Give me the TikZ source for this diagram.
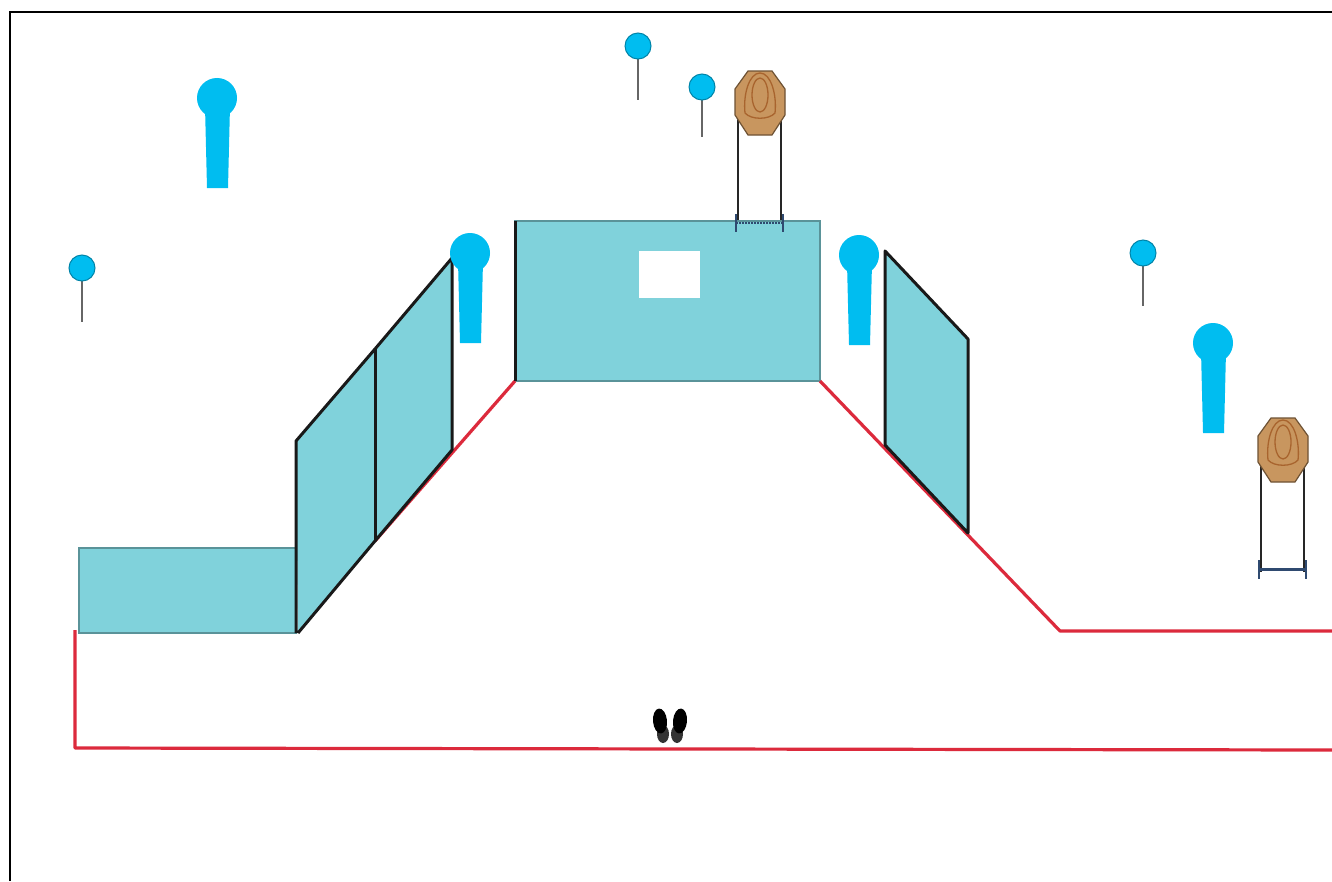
\documentclass[tikz,border=0pt]{standalone}
\usetikzlibrary{shapes.geometric}
\definecolor{wallc}{HTML}{80D2DB}
\definecolor{popc}{HTML}{00BDF0}
\definecolor{steelc}{HTML}{C8965F}
\definecolor{ringc}{HTML}{A8642E}
\definecolor{linec}{HTML}{DC2A3C}
\definecolor{basec}{HTML}{2F4A70}
\tikzset{
  wall/.style   ={fill=wallc,draw=black!30!wallc,line width=1.2pt},
  panel/.style  ={fill=wallc},
  edge/.style   ={draw=black!90,line width=3pt},
  fault/.style  ={draw=linec,line width=3.2pt,line join=round},
  head/.style   ={circle,fill=popc,draw=black!30!popc,line width=1pt,inner sep=0pt},
  stem/.style   ={draw=black!60,line width=2pt},
  leg/.style    ={draw=black!85,line width=1.8pt},
  ring/.style   ={draw=ringc,line width=1.3pt},
  shoe/.style   ={ellipse,fill=black,inner sep=0pt},
}
\begin{document}
\begin{tikzpicture}[x=1pt,y=-1pt]
  \useasboundingbox (0,0) rectangle (1332,881);
  \fill[white] (0,0) rectangle (1332,881);
  % frame
  \draw[line width=2pt] (10,881) -- (10,11.5) -- (1332,11.5);
  % low wall and front wall
  \draw[wall] (79,548) rectangle (296,633);
  \draw[wall] (515,221) rectangle (820,381);
  \fill[white] (639,251) rectangle (700,298);
  % fault lines
  \draw[fault] (75,630) -- (75,748) -- (700,749) -- (1332,750);
  \draw[fault] (375,541) -- (515,381);
  \draw[fault] (820,381) -- (1060,631) -- (1332,631);
  % left panels
  \fill[panel] (296,441) -- (375,349) -- (375,541) -- (298,633) -- cycle;
  \fill[panel] (375,349) -- (452,258) -- (452,450) -- (375,541) -- cycle;
  \draw[edge,line join=round] (296,633) -- (296,441) -- (375,349) -- (452,258) -- (452,450) -- (375,541) -- (298,633);
  \draw[edge] (375,349) -- (375,541);
  \draw[edge] (515,221) -- (515,381);
  % right panel
  \draw[panel,edge,line join=round] (885,251) -- (968,339) -- (968,533) -- (885,445) -- cycle;
  % small poppers
  \foreach \px/\py/\pb/\pn in {82/268/322/sa,638/46/100/sb,702/87/137/sc,1143/253/306/sd}{
    \draw[stem] (\px,\py) -- (\px,\pb);
    \node[head,minimum size=26pt] (\pn) at (\px,\py) {};
  }
  % large poppers
  \foreach \px/\py/\pb/\pn in {217/98/188/la,470/253/343/lb,859/255/345/lc,1213/343/433/ld}{
    \fill[popc] (\px-12,\py+8) -- (\px+13,\py+8) -- (\px+11,\pb) -- (\px-10,\pb) -- cycle;
    \node[head,draw=popc,minimum size=39pt] (\pn) at (\px,\py) {};
  }
  % steel targets
  \foreach \px/\py/\pb/\pn in {760/103/220/ta,1283/450/572/tb}{
    \draw[leg] (\px-22,\py+15) -- (\px-22,\pb);
    \draw[leg] (\px+21,\py+15) -- (\px+21,\pb);
    \draw[fill=steelc,draw=black!45!steelc,line width=1.2pt]
      (\px-12,\py-32) -- (\px+12,\py-32) -- (\px+25,\py-14) -- (\px+25,\py+12)
      -- (\px+12,\py+32) -- (\px-12,\py+32) -- (\px-25,\py+12) -- (\px-25,\py-14) -- cycle;
    \draw[ring] (\px-15,\py+10) .. controls (\px-17,\py-8) and (\px-11,\py-30) .. (\px,\py-30)
      .. controls (\px+11,\py-30) and (\px+17,\py-8) .. (\px+15,\py+10)
      .. controls (\px+9,\py+17) and (\px-9,\py+17) .. (\px-15,\py+10);
    \node[ellipse,ring,minimum width=16pt,minimum height=34pt,inner sep=0pt] (\pn) at (\px,\py-8) {};
  }
  % stands
  \draw[basec,line width=2pt,densely dotted] (736,223) -- (783,223);
  \draw[basec,line width=2pt] (736,214) -- (736,232);
  \draw[basec,line width=2pt] (783,214) -- (783,232);
  \draw[basec,line width=3.5pt] (1259,569.5) -- (1306,569.5);
  \draw[basec,line width=2.5pt] (1259,560) -- (1259,579);
  \draw[basec,line width=2.5pt] (1306,560) -- (1306,579);
  % shoes
  \node[shoe,fill=black!80,minimum width=12pt,minimum height=18pt] (ha) at (663,734) {};
  \node[shoe,fill=black!80,minimum width=12pt,minimum height=18pt] (hb) at (677,734) {};
  \node[shoe,minimum width=14pt,minimum height=25pt,rotate=5] (fa) at (660,721) {};
  \node[shoe,minimum width=14pt,minimum height=25pt,rotate=-5] (fb) at (680,721) {};
\end{tikzpicture}
\end{document}
